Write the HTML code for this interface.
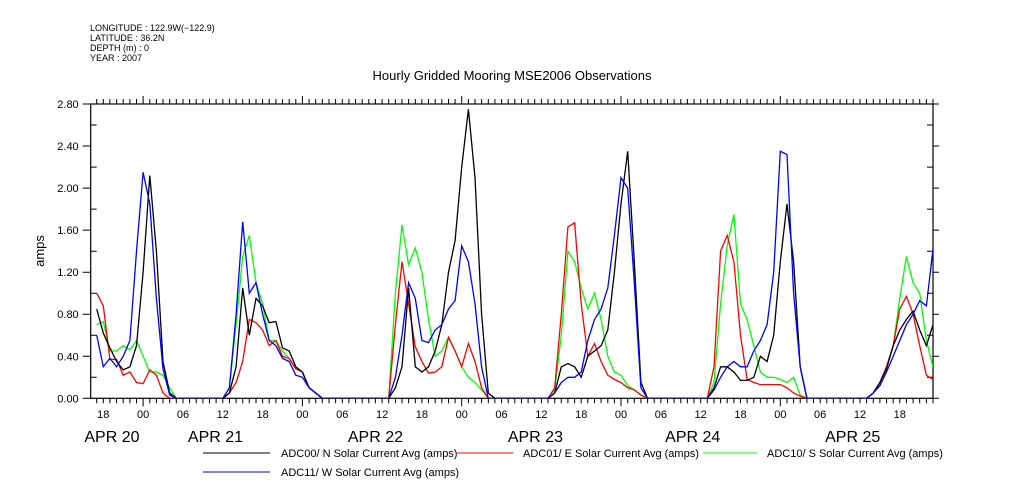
<!DOCTYPE html>
<html><head><meta charset="utf-8"><style>
html,body{margin:0;padding:0;background:#fff;}
svg{display:block;font-family:"Liberation Sans",sans-serif;}
</style></head><body>
<svg id="chart" width="1009" height="504" viewBox="0 0 1009 504" xmlns="http://www.w3.org/2000/svg">
<g font-size="9" fill="#000">
<text x="90" y="31">LONGITUDE : 122.9W(−122.9)</text>
<text x="90" y="41">LATITUDE : 36.2N</text>
<text x="90" y="51">DEPTH (m) : 0</text>
<text x="90" y="61">YEAR : 2007</text>
</g>
<text x="512" y="80" font-size="13" text-anchor="middle">Hourly Gridded Mooring MSE2006 Observations</text>
<text x="44" y="251" font-size="13" text-anchor="middle" transform="rotate(-90 44 251)">amps</text>
<g id="axes"></g>
<g id="series"></g>
<g font-size="11">
<line x1="203" y1="453" x2="270" y2="453" stroke="#000"/>
<text x="281" y="457">ADC00/ N Solar Current Avg (amps)</text>
<line x1="457" y1="453" x2="513" y2="453" stroke="#f00"/>
<text x="523" y="457">ADC01/ E Solar Current Avg (amps)</text>
<line x1="703" y1="453" x2="757" y2="453" stroke="#0f0"/>
<text x="767" y="457">ADC10/ S Solar Current Avg (amps)</text>
<line x1="203" y1="472" x2="270" y2="472" stroke="#00f"/>
<text x="281" y="476">ADC11/ W Solar Current Avg (amps)</text>
</g>
</svg>
<script>
// hours relative to APR 20 00:00, starting at -7
const startHour = -7;
const seriesN = [0.85,0.62,0.48,0.35,0.27,0.30,0.50,1.20,2.12,1.40,0.35,0.05,0,0,0,0,0,0,0,0,0.05,0.30,1.05,0.60,0.95,0.88,0.72,0.73,0.48,0.45,0.30,0.25,0.10,0.05,0,0,0,0,0,0,0,0,0,0,0,0.10,0.30,1.05,0.30,0.25,0.30,0.45,0.70,1.20,1.50,2.20,2.75,2.10,0.80,0.05,0,0,0,0,0,0,0,0,0,0.05,0.30,0.33,0.30,0.20,0.40,0.45,0.50,0.65,1.20,1.85,2.35,1.30,0.15,0,0,0,0,0,0,0,0,0,0,0.10,0.30,0.30,0.25,0.17,0.17,0.20,0.40,0.35,0.60,1.30,1.85,1.30,0.30,0,0,0,0,0,0,0,0,0,0,0.05,0.15,0.28,0.50,0.65,0.75,0.83,0.65,0.50,0.70];
const seriesE = [1.00,0.88,0.37,0.37,0.22,0.25,0.15,0.14,0.27,0.22,0.05,0,0,0,0,0,0,0,0,0,0.05,0.15,0.35,0.75,0.72,0.65,0.50,0.55,0.40,0.38,0.28,0.25,0.10,0.05,0,0,0,0,0,0,0,0,0,0,0,0.70,1.30,0.90,0.49,0.35,0.24,0.25,0.30,0.58,0.45,0.30,0.52,0.35,0.10,0,0,0,0,0,0,0,0,0,0,0.10,0.80,1.63,1.67,0.90,0.40,0.52,0.35,0.22,0.18,0.15,0.10,0.08,0.03,0,0,0,0,0,0,0,0,0,0,0.30,1.40,1.55,1.30,0.60,0.18,0.15,0.13,0.13,0.13,0.13,0.10,0.05,0.02,0,0,0,0,0,0,0,0,0,0,0.05,0.15,0.30,0.50,0.85,0.97,0.80,0.50,0.22,0.18];
const seriesS = [0.70,0.73,0.45,0.45,0.50,0.46,0.55,0.40,0.25,0.25,0.22,0.10,0,0,0,0,0,0,0,0,0.10,0.70,1.35,1.55,1.10,0.90,0.55,0.55,0.45,0.38,0.28,0.25,0.10,0.05,0,0,0,0,0,0,0,0,0,0,0,1.00,1.65,1.27,1.43,1.20,0.75,0.40,0.45,0.58,0.45,0.30,0.20,0.15,0.08,0,0,0,0,0,0,0,0,0,0,0.08,0.60,1.40,1.30,1.05,0.85,1.00,0.75,0.40,0.25,0.22,0.12,0.08,0.03,0,0,0,0,0,0,0,0,0,0,0.15,0.90,1.45,1.75,0.90,0.75,0.50,0.25,0.20,0.20,0.18,0.15,0.20,0.03,0,0,0,0,0,0,0,0,0,0,0.05,0.15,0.30,0.50,0.95,1.35,1.10,1.00,0.55,0.30];
const seriesW = [0.60,0.30,0.38,0.30,0.40,0.55,1.40,2.15,1.85,0.95,0.28,0.03,0,0,0,0,0,0,0,0,0.10,0.80,1.68,1.00,1.10,0.80,0.55,0.50,0.38,0.35,0.22,0.20,0.10,0.05,0,0,0,0,0,0,0,0,0,0,0,0.20,0.60,1.10,0.95,0.55,0.53,0.65,0.70,0.85,0.93,1.45,1.30,0.90,0.30,0,0,0,0,0,0,0,0,0,0,0.05,0.15,0.20,0.20,0.25,0.55,0.75,0.85,1.05,1.55,2.10,2.00,1.10,0.10,0,0,0,0,0,0,0,0,0,0,0.08,0.20,0.30,0.35,0.30,0.30,0.45,0.55,0.70,1.20,2.35,2.32,1.00,0.30,0,0,0,0,0,0,0,0,0,0,0.05,0.12,0.25,0.40,0.55,0.70,0.80,0.93,0.88,1.42];
const yTicks = [0,0.4,0.8,1.2,1.6,2.0,2.4,2.8];
const yTickLabels = ["0.00","0.40","0.80","1.20","1.60","2.00","2.40","2.80"];
const xTickHours = [-6,0,6,12,18,24,30,36,42,48,54,60,66,72,78,84,90,96,102,108,114];
const xTickLabels = ["18","00","06","12","18","00","06","12","18","00","06","12","18","00","06","12","18","00","06","12","18"];
const dayLabels = ["APR 20","APR 21","APR 22","APR 23","APR 24","APR 25"];
const dayLabelHours = [-4.7,10.9,35,59.1,82.8,106.9];

const L=90.7,R=933,T=104,B=398.3,H0=-7.9,H1=119,YMAX=2.8;
function xs(h){return L+(h-H0)*(R-L)/(H1-H0);}
function ys(v){return B-v*(B-T)/YMAX;}
const NS='http://www.w3.org/2000/svg';
function mk(tag,attrs,parent){const e=document.createElementNS(NS,tag);for(const k in attrs)e.setAttribute(k,attrs[k]);parent.appendChild(e);return e;}
const axes=document.getElementById('axes');
const frame=mk('rect',{x:L,y:T,width:R-L,height:B-T,fill:'none',stroke:'#000','stroke-width':1.2},axes);


let d='';
for(let h=Math.ceil(H0);h<=H1;h++){const x=xs(h).toFixed(1);const major=(h%24===0);
 d+=`M${x} ${B}v${major?8:5}M${x} ${T}v${major?-8:-5}`;}
for(let v=0;v<=YMAX+1e-6;v+=0.2){const y=ys(v).toFixed(1);const major=Math.round(v*10)%4===0;
 d+=`M${L} ${y}h${major?-8:0}M${L} ${y}h${major?0:6}M${R} ${y}h${major?6:-0}M${R} ${y}h${major?0:-6}`;}
const tk=mk('path',{d:d,stroke:'#000','stroke-width':1,fill:'none'},axes);


yTicks.forEach((v,i)=>{const t=mk('text',{x:L-12,y:ys(v)+4,'font-size':11,'text-anchor':'end'},axes);t.textContent=yTickLabels[i];
 
 });
xTickHours.forEach((h,i)=>{const t=mk('text',{x:xs(h),y:418,'font-size':11,'text-anchor':'middle'},axes);t.textContent=xTickLabels[i];
 
 });
dayLabels.forEach((s,i)=>{const t=mk('text',{x:xs(dayLabelHours[i]),y:442,'font-size':16,'text-anchor':'middle'},axes);t.textContent=s;
 
 });
const ser=document.getElementById('series');
const defs=mk('defs',{},ser);const cp=mk('clipPath',{id:'clip'},defs);mk('rect',{x:L,y:T-2,width:R-L,height:B-T+2},cp);
const list=[[seriesS,'#00ff00','series-s'],[seriesE,'#ff0000','series-e'],[seriesN,'#000000','series-n'],[seriesW,'#0000ff','series-w']];
list.forEach(([arr,c,n])=>{const pts=arr.map((v,i)=>xs(startHour+i).toFixed(1)+','+ys(v).toFixed(1)).join(' ');
 const p=mk('polyline',{points:pts,fill:'none',stroke:c,'stroke-width':1.3,'clip-path':'url(#clip)'},ser);
 
 });
</script>
</body></html>
